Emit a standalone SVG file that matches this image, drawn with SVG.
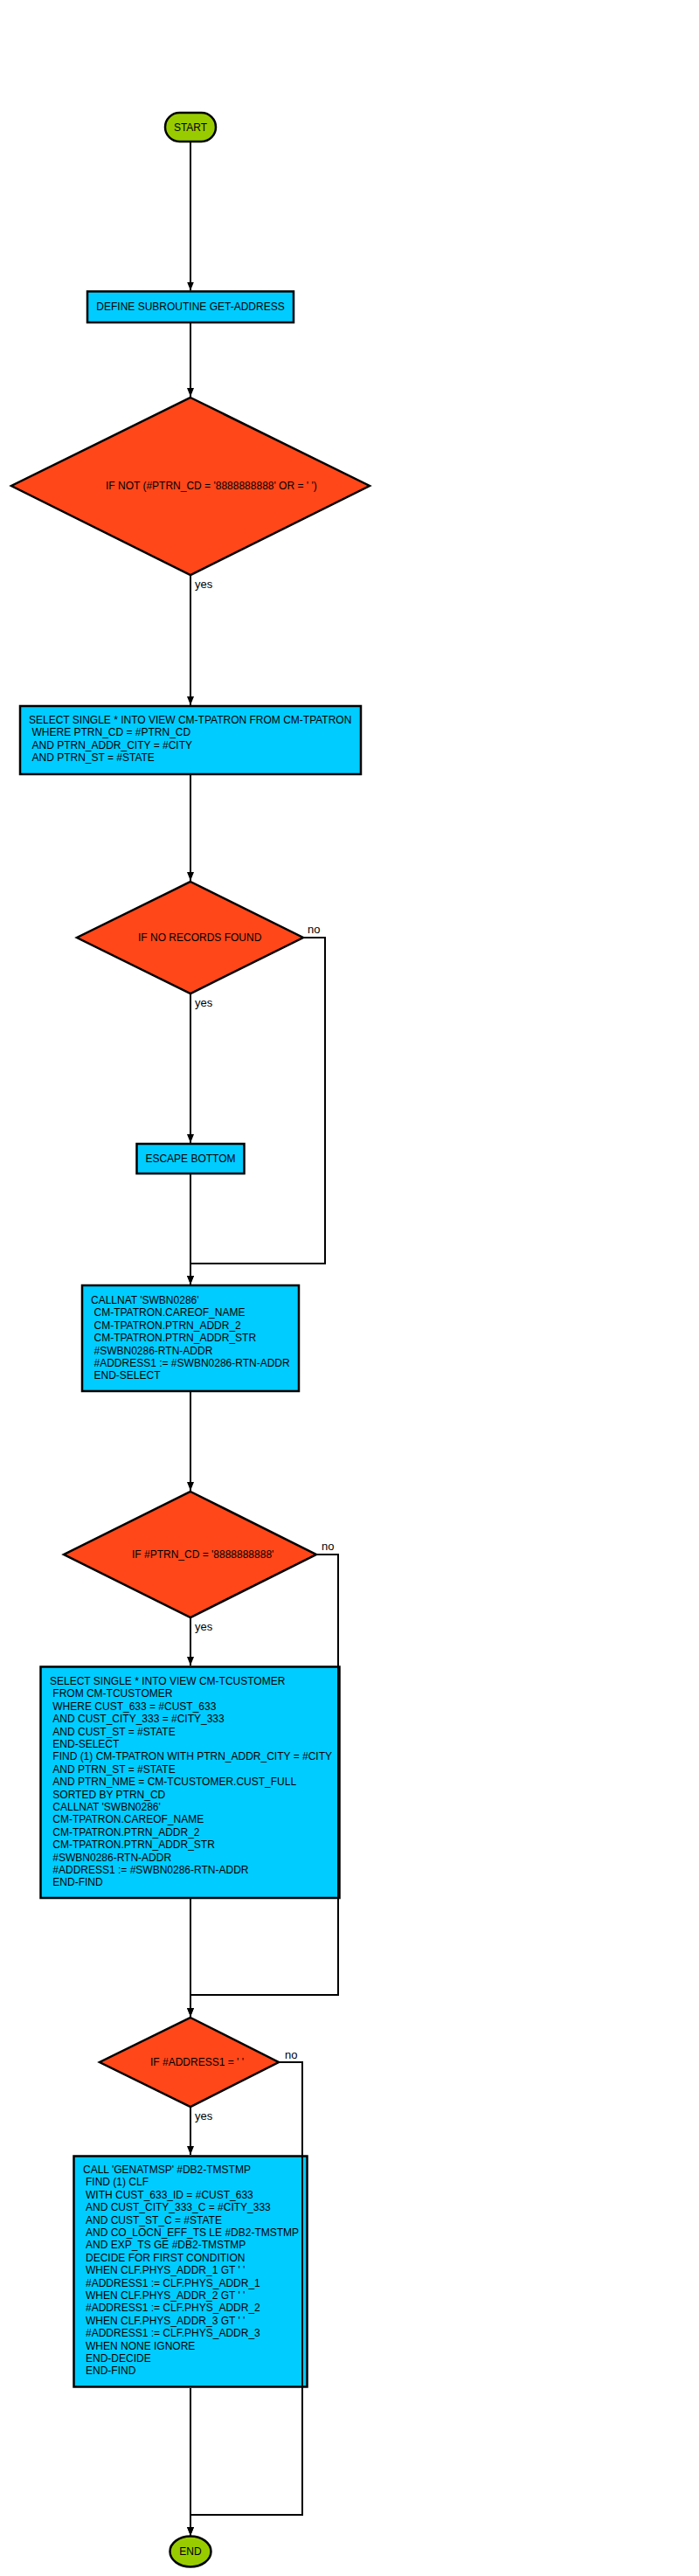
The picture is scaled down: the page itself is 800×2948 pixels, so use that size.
<svg xmlns="http://www.w3.org/2000/svg" width="800" height="2948" viewBox="0 0 800 2948">
<style>
text{font-family:"Liberation Sans",Arial,sans-serif;font-size:12px;fill:#000}
.t{fill:#99CC00;stroke:#000;stroke-width:2.5}
.p{fill:#00CCFF;stroke:#000;stroke-width:2.5}
.d{fill:#FF471A;stroke:#000;stroke-width:2.5}
.c{fill:none;stroke:#000;stroke-width:2}
.lbl{font-size:13px}
.mid{text-anchor:middle}
</style>
<defs>
<marker id="arr" markerUnits="userSpaceOnUse" markerWidth="10" markerHeight="10" viewBox="0 0 10 10" refX="10" refY="5" orient="auto">
<path d="M0,1 L10,5 L0,9 Z" fill="#000"/>
</marker>
</defs>
<rect width="800" height="2948" fill="#fff"/>

<g id="start"><rect class="t" x="189" y="129" width="58" height="33" rx="16.5" ry="16.5"/><text class="mid" x="218" y="150">START</text></g>

<g id="define"><rect class="p" x="100" y="333.5" width="236" height="35.5"/><text class="mid" x="218" y="355">DEFINE SUBROUTINE GET-ADDRESS</text></g>

<g id="if1"><polygon class="d" points="218,455 423,556 218,658 13,556"/><text x="121" y="560">IF NOT (#PTRN_CD = '8888888888' OR = ' ')</text></g>

<g id="select1"><rect class="p" x="23" y="808" width="390" height="78"/>
<text x="33" y="828">SELECT SINGLE * INTO VIEW CM-TPATRON FROM CM-TPATRON</text>
<text x="36.5" y="842.4">WHERE PTRN_CD = #PTRN_CD</text>
<text x="36.5" y="856.8">AND PTRN_ADDR_CITY = #CITY</text>
<text x="36.5" y="871.2">AND PTRN_ST = #STATE</text>
</g>

<g id="if2"><polygon class="d" points="218,1009 347,1073 218,1137 88,1073"/><text x="158" y="1077">IF NO RECORDS FOUND</text></g>

<g id="escape"><rect class="p" x="156.5" y="1309" width="123" height="34"/><text class="mid" x="218" y="1330">ESCAPE BOTTOM</text></g>

<g id="callnat"><rect class="p" x="94" y="1471" width="248" height="121"/>
<text x="104" y="1492">CALLNAT 'SWBN0286'</text>
<text x="107.5" y="1506.4">CM-TPATRON.CAREOF_NAME</text>
<text x="107.5" y="1520.8">CM-TPATRON.PTRN_ADDR_2</text>
<text x="107.5" y="1535.2">CM-TPATRON.PTRN_ADDR_STR</text>
<text x="107.5" y="1549.6">#SWBN0286-RTN-ADDR</text>
<text x="107.5" y="1564">#ADDRESS1 := #SWBN0286-RTN-ADDR</text>
<text x="107.5" y="1578.4">END-SELECT</text>
</g>

<g id="if3"><polygon class="d" points="218,1707 362,1779 218,1851 73,1779"/><text x="151" y="1783">IF #PTRN_CD = '8888888888'</text></g>

<g id="select2"><rect class="p" x="46.5" y="1907.5" width="342" height="264.5"/>
<text x="57" y="1928">SELECT SINGLE * INTO VIEW CM-TCUSTOMER</text>
<text x="60.3" y="1942.4">FROM CM-TCUSTOMER</text>
<text x="60.3" y="1956.8">WHERE CUST_633 = #CUST_633</text>
<text x="60.3" y="1971.2">AND CUST_CITY_333 = #CITY_333</text>
<text x="60.3" y="1985.6">AND CUST_ST = #STATE</text>
<text x="60.3" y="2000">END-SELECT</text>
<text x="60.3" y="2014.4">FIND (1) CM-TPATRON WITH PTRN_ADDR_CITY = #CITY</text>
<text x="60.3" y="2028.8">AND PTRN_ST = #STATE</text>
<text x="60.3" y="2043.2">AND PTRN_NME = CM-TCUSTOMER.CUST_FULL</text>
<text x="60.3" y="2057.6">SORTED BY PTRN_CD</text>
<text x="60.3" y="2072">CALLNAT 'SWBN0286'</text>
<text x="60.3" y="2086.4">CM-TPATRON.CAREOF_NAME</text>
<text x="60.3" y="2100.8">CM-TPATRON.PTRN_ADDR_2</text>
<text x="60.3" y="2115.2">CM-TPATRON.PTRN_ADDR_STR</text>
<text x="60.3" y="2129.6">#SWBN0286-RTN-ADDR</text>
<text x="60.3" y="2144">#ADDRESS1 := #SWBN0286-RTN-ADDR</text>
<text x="60.3" y="2158.4">END-FIND</text>
</g>

<g id="if4"><polygon class="d" points="218,2309 319,2360 218,2411 114,2360"/><text x="172" y="2364">IF #ADDRESS1 = ' '</text></g>

<g id="call"><rect class="p" x="84.5" y="2467.5" width="267" height="264"/>
<text x="95" y="2487">CALL 'GENATMSP' #DB2-TMSTMP</text>
<text x="98" y="2501.4">FIND (1) CLF</text>
<text x="98" y="2515.8">WITH CUST_633_ID = #CUST_633</text>
<text x="98" y="2530.2">AND CUST_CITY_333_C = #CITY_333</text>
<text x="98" y="2544.6">AND CUST_ST_C = #STATE</text>
<text x="98" y="2559">AND CO_LOCN_EFF_TS LE #DB2-TMSTMP</text>
<text x="98" y="2573.4">AND EXP_TS GE #DB2-TMSTMP</text>
<text x="98" y="2587.8">DECIDE FOR FIRST CONDITION</text>
<text x="98" y="2602.2">WHEN CLF.PHYS_ADDR_1 GT ' '</text>
<text x="98" y="2616.6">#ADDRESS1 := CLF.PHYS_ADDR_1</text>
<text x="98" y="2631">WHEN CLF.PHYS_ADDR_2 GT ' '</text>
<text x="98" y="2645.4">#ADDRESS1 := CLF.PHYS_ADDR_2</text>
<text x="98" y="2659.8">WHEN CLF.PHYS_ADDR_3 GT ' '</text>
<text x="98" y="2674.2">#ADDRESS1 := CLF.PHYS_ADDR_3</text>
<text x="98" y="2688.6">WHEN NONE IGNORE</text>
<text x="98" y="2703">END-DECIDE</text>
<text x="98" y="2717.4">END-FIND</text>
</g>

<g id="end"><ellipse class="t" cx="218" cy="2920" rx="23.5" ry="17.5"/><text class="mid" x="218" y="2924">END</text></g>

<g id="connectors">
<path class="c" d="M218,162 V332.5" marker-end="url(#arr)"/>
<path class="c" d="M218,369 V454" marker-end="url(#arr)"/>
<path class="c" d="M218,658 V807" marker-end="url(#arr)"/>
<path class="c" d="M218,887 V1008" marker-end="url(#arr)"/>
<path class="c" d="M218,1137 V1308" marker-end="url(#arr)"/>
<path class="c" d="M218,1344 V1470" marker-end="url(#arr)"/>
<path class="c" d="M347,1073 H372 V1446 H218 V1470" marker-end="url(#arr)"/>
<path class="c" d="M218,1593 V1706" marker-end="url(#arr)"/>
<path class="c" d="M218,1851 V1906" marker-end="url(#arr)"/>
<path class="c" d="M362,1779 H387 V2283 H218 V2308" marker-end="url(#arr)"/>
<path class="c" d="M218,2173 V2308" marker-end="url(#arr)"/>
<path class="c" d="M218,2411 V2466" marker-end="url(#arr)"/>
<path class="c" d="M319,2360 H346 V2878 H218 V2902" marker-end="url(#arr)"/>
<path class="c" d="M218,2733 V2902" marker-end="url(#arr)"/>
<text class="lbl" x="223" y="673">yes</text>
<text class="lbl" x="352" y="1068">no</text>
<text class="lbl" x="223" y="1152">yes</text>
<text class="lbl" x="368" y="1774">no</text>
<text class="lbl" x="223" y="1866">yes</text>
<text class="lbl" x="326" y="2356">no</text>
<text class="lbl" x="223" y="2426">yes</text>
</g>
</svg>
